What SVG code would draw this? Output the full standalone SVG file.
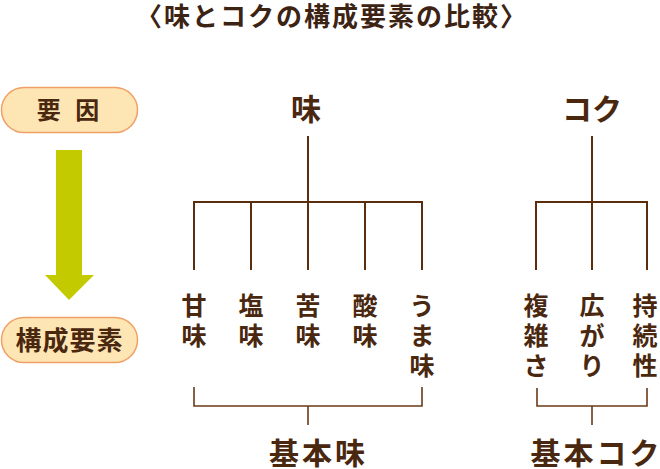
<svg xmlns="http://www.w3.org/2000/svg" width="660" height="469" viewBox="0 0 660 469">
<style>
text{font-family:"Noto Sans CJK JP","Noto Sans",sans-serif;font-weight:bold;fill:#4a2810;text-anchor:middle}
.title{font-size:26px;letter-spacing:2px;fill:#3d2314}
.pill rect{fill:#fde6b4;stroke:#f0a066;stroke-width:1.5}
.pilltext{font-size:24px}
.head{font-size:30px}
.lbl{font-size:25px}
.base{font-size:30px;letter-spacing:3px}
.line{stroke:#5a2d0c;stroke-width:2;fill:none}
.brk{stroke:#6a3a18;stroke-width:1.6;fill:none}
</style>
<rect width="660" height="469" fill="#ffffff"/>
<text class="title" x="332" y="26">〈味とコクの構成要素の比較〉</text>

<g id="factor" class="pill">
<rect x="1.5" y="87.5" width="136" height="45" rx="22.5"/>
<text class="pilltext" x="68" y="119" word-spacing="9">要 因</text>
</g>
<g id="arrow">
<polygon points="56,150 82,150 82,275 94,275 69,300 45,275 56,275" fill="#c3cb00"/>
</g>
<g id="components" class="pill">
<rect x="1.5" y="317.5" width="136" height="45" rx="22.5"/>
<text style="font-size:26px" x="69.5" y="350" letter-spacing="1">構成要素</text>
</g>

<g id="aji"><text class="head" x="306" y="120">味</text></g>
<g id="koku"><text class="head" x="592" y="120">コク</text></g>

<g id="amami"><text class="lbl"><tspan x="194" y="315">甘</tspan><tspan x="194" y="345">味</tspan></text></g>
<g id="enmi"><text class="lbl"><tspan x="251" y="315">塩</tspan><tspan x="251" y="345">味</tspan></text></g>
<g id="nigami"><text class="lbl"><tspan x="308" y="315">苦</tspan><tspan x="308" y="345">味</tspan></text></g>
<g id="sanmi"><text class="lbl"><tspan x="365" y="315">酸</tspan><tspan x="365" y="345">味</tspan></text></g>
<g id="umami"><text class="lbl"><tspan x="422" y="315">う</tspan><tspan x="422" y="345">ま</tspan><tspan x="422" y="375">味</tspan></text></g>

<g id="fukuzatsusa"><text class="lbl"><tspan x="536" y="315">複</tspan><tspan x="536" y="345">雑</tspan><tspan x="536" y="375">さ</tspan></text></g>
<g id="hirogari"><text class="lbl"><tspan x="592" y="315">広</tspan><tspan x="592" y="345">が</tspan><tspan x="592" y="375">り</tspan></text></g>
<g id="jizokusei"><text class="lbl"><tspan x="645" y="315">持</tspan><tspan x="645" y="345">続</tspan><tspan x="645" y="375">性</tspan></text></g>

<g id="kihonmi"><text class="base" x="318.5" y="464">基本味</text></g>
<g id="kihonkoku"><text class="base" x="596.5" y="464">基本コク</text></g>

<g id="connectors">
<path class="line" d="M308,136V202M194,270V202H422V270M251,202V270M308,202V270M365,202V270"/>
<path class="line" d="M592,136V202M536,270V202H647V270M592,202V270"/>
<path class="brk" d="M194,387V406H422V387M308,406V425"/>
<path class="brk" d="M537,388V406H647V388M592,406V425"/>
</g>
</svg>
